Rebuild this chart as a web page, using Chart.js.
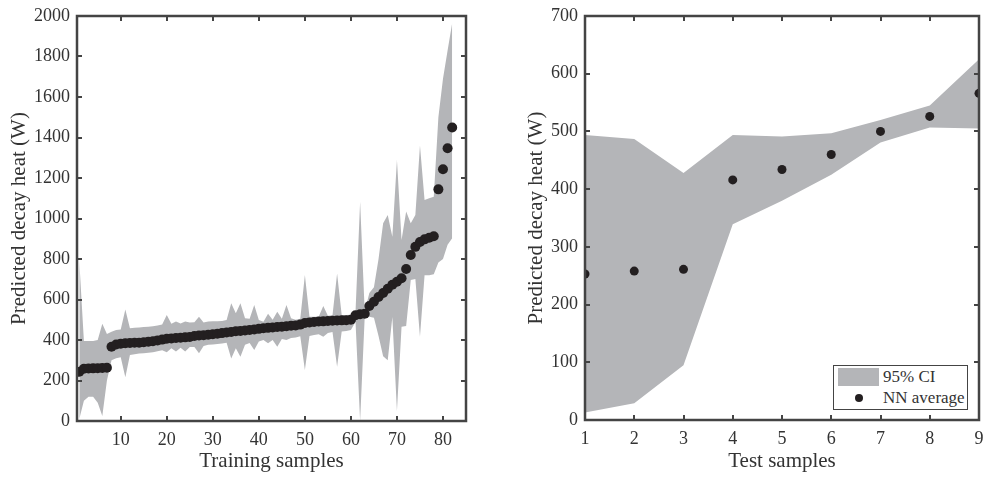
<!DOCTYPE html>
<html>
<head>
<meta charset="utf-8">
<script src="https://cdn.jsdelivr.net/npm/chart.js@4.4.1/dist/chart.umd.min.js"></script>
<style>
body { margin: 0; background: #fff; }
#wrap { position: relative; width: 984px; height: 478px; }
.pane { position: absolute; top: 0; width: 492px; height: 478px; }
#leftPane { left: 0; }
#rightPane { left: 492px; }
#legend {
    position: absolute; left: 833px; top: 365px; width: 133px; height: 43px;
    border: 1.5px solid #444; background: #fff;
    font-family: "Liberation Serif", serif; font-size: 17px; color: #333;
}
#legend .row { position: absolute; left: 0; height: 20px; line-height: 20px; }
#legend .swatch { position: absolute; left: 4px; top: 1px; width: 41px; height: 18px; background: #b4b5b8; }
#legend .dot { position: absolute; left: 21px; top: 6px; width: 8px; height: 8px; border-radius: 50%; background: #231f20; }
#legend .txt { position: absolute; left: 49px; top: 0; white-space: nowrap; }
</style>
</head>
<body>
<div id="wrap">
  <div class="pane" id="leftPane"><canvas id="trainChart" width="492" height="478"></canvas></div>
  <div class="pane" id="rightPane"><canvas id="testChart" width="492" height="478"></canvas></div>
  <div id="legend">
    <div class="row" style="top:1px;width:130px"><span class="swatch"></span><span class="txt">95% CI</span></div>
    <div class="row" style="top:22px;width:130px"><span class="dot"></span><span class="txt">NN average</span></div>
  </div>
</div>

<script>
// training set (left panel)
var trainSamples = [1,2,3,4,5,6,7,8,9,10,11,12,13,14,15,16,17,18,19,20,
    21,22,23,24,25,26,27,28,29,30,31,32,33,34,35,36,37,38,39,40,
    41,42,43,44,45,46,47,48,49,50,51,52,53,54,55,56,57,58,59,60,
    61,62,63,64,65,66,67,68,69,70,71,72,73,74,75,76,77,78,79,80,81,82];
var trainAvg = [243,258,259,260,261,262,263,367,378,382,
    384,385,386,387,389,391,394,398,402,406,
    408,410,411,413,415,420,422,424,426,428,
    431,434,437,440,443,445,447,449,452,455,
    458,460,462,464,466,468,470,472,476,484,
    487,489,491,492,494,495,496,497,498,500,
    522,527,530,568,589,612,632,653,673,688,
    705,751,820,860,884,897,905,912,1144,1243,
    1347,1449];
var trainUpper = [790,395,395,395,400,480,430,441,449,452,
    551,458,460,462,464,466,468,472,476,523,
    480,491,482,491,486,488,515,486,491,492,
    493,494,499,581,532,581,507,505,573,499,
    490,530,500,539,505,573,507,500,505,721,
    515,515,515,568,520,522,729,523,523,525,
    540,1083,540,632,660,800,976,1017,910,1289,
    894,1034,977,1017,1360,1091,1100,1108,1500,1690,
    1830,1965];
var trainLower = [10,100,120,120,90,25,200,300,310,315,
    216,326,330,333,335,337,340,345,350,340,
    359,343,362,343,365,365,334,370,376,378,
    380,383,387,309,359,317,376,385,351,392,
    400,384,400,367,405,400,410,412,418,252,
    420,425,428,416,435,440,268,442,445,449,
    490,0,515,515,510,420,320,300,514,50,
    466,469,696,701,416,720,720,725,783,800,
    870,903];
var trainXTicks = [10,20,30,40,50,60,70,80];
var trainYTicks = [0,200,400,600,800,1000,1200,1400,1600,1800,2000];

// test set (right panel)
var testSamples = [1,2,3,4,5,6,7,8,9];
var testAvg = [253,258,261,416,434,460,500,526,566];
var testUpper = [494,487,428,494,491,497,520,545,625];
var testLower = [13,29,95,339,380,425,481,507,505];
var testXTicks = [1,2,3,4,5,6,7,8,9];
var testYTicks = [0,100,200,300,400,500,600,700];

var bandColor = '#b4b5b8';
var dotColor = '#231f20';
var axisColor = '#444444';
var textColor = '#333333';
var fontFam = '"Liberation Serif", "Times New Roman", serif';

function pts(xs, ys) {
    return xs.map(function(x, i) { return {x: x, y: ys[i]}; });
}

// matlab style box with inward ticks
var boxAxes = {
    id: 'boxAxes',
    afterDraw: function(chart) {
        var ctx = chart.ctx, a = chart.chartArea;
        var xs = chart.scales.x, ys = chart.scales.y;
        var len = 5;
        ctx.save();
        ctx.strokeStyle = axisColor;
        ctx.lineWidth = 2;
        ctx.beginPath();
        xs.ticks.forEach(function(t) {
            var px = Math.round(xs.getPixelForValue(t.value));
            ctx.moveTo(px, a.bottom); ctx.lineTo(px, a.bottom - len);
            ctx.moveTo(px, a.top); ctx.lineTo(px, a.top + len);
        });
        ys.ticks.forEach(function(t) {
            var py = Math.round(ys.getPixelForValue(t.value));
            ctx.moveTo(a.left, py); ctx.lineTo(a.left + len, py);
            ctx.moveTo(a.right, py); ctx.lineTo(a.right - len, py);
        });
        ctx.stroke();
        ctx.lineWidth = 2.5;
        ctx.strokeRect(a.left, a.top, a.right - a.left, a.bottom - a.top);
        ctx.restore();
    }
};

function makeChart(ctx, cfg) {
    return new Chart(ctx, {
        type: 'line',
        data: {
            datasets: [{
                label: 'NN average',
                data: pts(cfg.xs, cfg.avg),
                showLine: false,
                pointRadius: cfg.dotRadius,
                pointBackgroundColor: dotColor,
                pointBorderWidth: 0
            }, {
                label: '95% CI',
                data: pts(cfg.xs, cfg.upper),
                borderWidth: 0,
                pointRadius: 0,
                backgroundColor: bandColor,
                fill: '+1',
                tension: 0
            }, {
                label: 'lower',
                data: pts(cfg.xs, cfg.lower),
                borderWidth: 0,
                pointRadius: 0,
                fill: false,
                tension: 0
            }]
        },
        options: {
            responsive: false,
            animation: false,
            events: [],
            layout: { padding: cfg.padding },
            plugins: { legend: { display: false }, tooltip: { enabled: false } },
            scales: {
                x: {
                    type: 'linear',
                    min: cfg.xMin, max: cfg.xMax,
                    grid: { display: false, drawTicks: false },
                    border: { display: false },
                    afterBuildTicks: function(s) { s.ticks = cfg.xTicks.map(function(v) { return {value: v}; }); },
                    afterFit: function(s) {
                        s.height = cfg.xHeight;
                        s.paddingLeft = 0;
                        s.paddingRight = 0;
                    },
                    ticks: {
                        color: textColor, padding: 8, maxRotation: 0,
                        font: { family: fontFam, size: 18 },
                        callback: function(v) { return String(v); }
                    },
                    title: {
                        display: true, text: cfg.xTitle, color: textColor,
                        font: { family: fontFam, size: 21 },
                        padding: { top: 0, bottom: 4 }
                    }
                },
                y: {
                    min: cfg.yTicks[0], max: cfg.yTicks[cfg.yTicks.length - 1],
                    grid: { display: false, drawTicks: false },
                    border: { display: false },
                    afterBuildTicks: function(s) { s.ticks = cfg.yTicks.map(function(v) { return {value: v}; }); },
                    afterFit: function(s) {
                        s.width = cfg.yWidth;
                        s.paddingTop = 0;
                        s.paddingBottom = 0;
                    },
                    ticks: {
                        color: textColor, padding: 7,
                        font: { family: fontFam, size: 18 },
                        callback: function(v) { return String(v); }
                    },
                    title: {
                        display: true, text: 'Predicted decay heat (W)', color: textColor,
                        font: { family: fontFam, size: 21 },
                        padding: { top: 7, bottom: 0 }
                    }
                }
            }
        },
        plugins: [boxAxes]
    });
}

window.addEventListener('load', function() {
    makeChart(document.getElementById('trainChart').getContext('2d'), {
        xs: trainSamples, avg: trainAvg, upper: trainUpper, lower: trainLower,
        xTicks: trainXTicks, yTicks: trainYTicks, xMin: 0.5, xMax: 85,
        xTitle: 'Training samples', dotRadius: 5,
        padding: { left: 0, right: 26, top: 16, bottom: 0 },
        yWidth: 77, xHeight: 57
    });
    makeChart(document.getElementById('testChart').getContext('2d'), {
        xs: testSamples, avg: testAvg, upper: testUpper, lower: testLower,
        xTicks: testXTicks, yTicks: testYTicks, xMin: 1, xMax: 9,
        xTitle: 'Test samples', dotRadius: 4.5,
        padding: { left: 25, right: 5, top: 16, bottom: 0 },
        yWidth: 68, xHeight: 58
    });
});
</script>
</body>
</html>
